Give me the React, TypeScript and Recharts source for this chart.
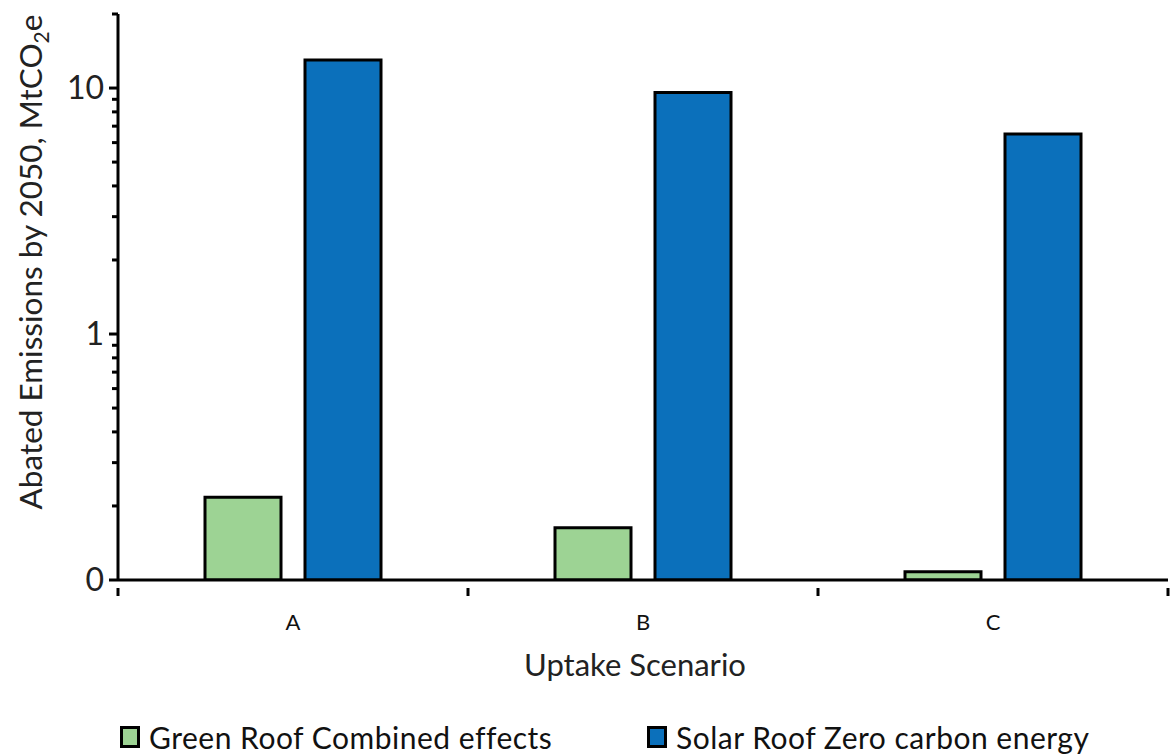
import { BarChart, Bar, XAxis, YAxis, Legend } from "recharts";

const scenarios = ["A", "B", "C"];
const greenRoof = [0.217, 0.163, 0.108];
const solarRoof = [13.0, 9.6, 6.5];
const yTicks = [
  0.1, 0.2, 0.3, 0.4, 0.5, 0.6, 0.7, 0.8, 0.9, 1, 2, 3, 4, 5, 6, 7, 8, 9, 10, 20,
];
const majorTicks: Record<number, string> = { 0.1: "0", 1: "1", 10: "10" };

const data = scenarios.map((s, i) => ({
  scenario: s,
  green: greenRoof[i],
  solar: solarRoof[i],
}));

const W = 1170;
const H = 755;
const AXIS_X = 118;
const RIGHT = 2;
const FONT = "Lato, 'Open Sans', sans-serif";
const GREEN = "#9dd394";
const BLUE = "#0b70bb";

const band = (W - AXIS_X - RIGHT) / scenarios.length;

function YTick(props: any) {
  const { y, payload } = props;
  const label = majorTicks[payload.value];
  const major = label !== undefined;
  const len = major ? 9 : 6;
  return (
    <g>
      <rect x={AXIS_X - len} y={y - 1.5} width={len} height={3} fill="#000" />
      {major && (
        <text
          x={AXIS_X - 14}
          y={y + 11}
          textAnchor="end"
          fontSize={32}
          fontFamily={FONT}
          fill="#222"
        >
          {label}
        </text>
      )}
    </g>
  );
}

function XTick(props: any) {
  const { x, y, payload, index } = props;
  const left = x - band / 2;
  const right = x + band / 2;
  const last = index === scenarios.length - 1;
  return (
    <g>
      <rect x={left - 1.5} y={y} width={3} height={8} fill="#000" />
      {last && <rect x={right - 1.5} y={y} width={3} height={8} fill="#000" />}
      <text
        x={x}
        y={y + 42}
        textAnchor="middle"
        fontSize={22}
        fontFamily={FONT}
        fill="#111"
      >
        {payload.value}
      </text>
    </g>
  );
}

function XLabel(props: any) {
  const { viewBox } = props;
  return (
    <text
      x={viewBox.x + viewBox.width / 2 - 8}
      y={viewBox.y + 96}
      textAnchor="middle"
      fontSize={31}
      fontFamily={FONT}
      fill="#222"
    >
      Uptake Scenario
    </text>
  );
}

function YLabel() {
  return (
    <text
      x={42}
      y={262}
      transform="rotate(-90, 42, 262)"
      textAnchor="middle"
      fontSize={31.5}
      fontFamily={FONT}
      fill="#222"
    >
      Abated Emissions by 2050, MtCO
      <tspan fontSize={21} dy={7}>
        2
      </tspan>
      <tspan dy={-7}>e</tspan>
    </text>
  );
}

function LegendContent() {
  const items = [
    { name: "Green Roof Combined effects", color: GREEN, left: 120 },
    { name: "Solar Roof Zero carbon energy", color: BLUE, left: 647 },
  ];
  return (
    <div style={{ position: "relative", height: 50, width: W }}>
      {items.map((it) => (
        <div
          key={it.name}
          style={{
            position: "absolute",
            left: it.left,
            top: 14,
            display: "flex",
            alignItems: "center",
            fontFamily: FONT,
            fontSize: 30,
            letterSpacing: 0.5,
            lineHeight: "36px",
            color: "#111",
            whiteSpace: "nowrap",
          }}
        >
          <span
            style={{
              display: "inline-block",
              width: 14,
              height: 16,
              background: it.color,
              border: "3px solid #000",
              marginRight: 9,
            }}
          />
          {it.name}
        </div>
      ))}
    </div>
  );
}

export default function App() {
  return (
    <div style={{ position: "absolute", left: 0, top: 0, background: "#fff" }}>
      <BarChart
        width={W}
        height={H}
        data={data}
        margin={{ top: 14, right: RIGHT, left: 0, bottom: 0 }}
        barCategoryGap={87}
        barGap={24}
      >
        <XAxis
          dataKey="scenario"
          height={125}
          axisLine={{ stroke: "#000", strokeWidth: 3 }}
          tickLine={false}
          tick={<XTick />}
          interval={0}
          label={<XLabel />}
        />
        <YAxis
          width={AXIS_X}
          scale="log"
          type="number"
          domain={[0.1, 20]}
          ticks={yTicks}
          interval={0}
          allowDataOverflow
          axisLine={{ stroke: "#000", strokeWidth: 3 }}
          tickLine={false}
          tick={<YTick />}
          label={<YLabel />}
        />
        <Legend
          verticalAlign="bottom"
          height={50}
          content={<LegendContent />}
          wrapperStyle={{ left: 0, width: W }}
        />
        <Bar
          dataKey="green"
          name="Green Roof Combined effects"
          fill={GREEN}
          stroke="#000"
          strokeWidth={3}
          isAnimationActive={false}
        />
        <Bar
          dataKey="solar"
          name="Solar Roof Zero carbon energy"
          fill={BLUE}
          stroke="#000"
          strokeWidth={3}
          isAnimationActive={false}
        />
      </BarChart>
    </div>
  );
}
